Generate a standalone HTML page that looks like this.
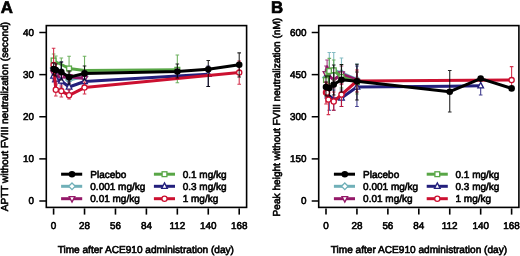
<!DOCTYPE html><html><head><meta charset="utf-8"><style>html,body{margin:0;padding:0;background:#fff;}svg{display:block;will-change:transform;}text{font-family:"Liberation Sans",sans-serif;text-rendering:geometricPrecision;fill:#000;stroke:#000;stroke-width:0.6px;}.tk{font-size:9.9px;font-weight:normal;}.ti{font-size:10.1px;font-weight:normal;}.lg{font-size:10.0px;font-weight:normal;}.pl{font-size:16.8px;font-weight:bold;stroke-width:0.7px;}</style></head><body>
<svg width="520" height="256" viewBox="0 0 520 256">
<rect width="520" height="256" fill="#fff"/>
<text x="0.8" y="12.5" class="pl">A</text>
<text x="271.0" y="12.5" class="pl">B</text>
<path d="M53.60 62.00V74.00M51.80 62.00H55.40M51.80 74.00H55.40" stroke="#70b0b8" stroke-width="1.1" stroke-opacity="0.85" fill="none"/>
<path d="M55.81 64.00V76.00M54.01 64.00H57.61M54.01 76.00H57.61" stroke="#70b0b8" stroke-width="1.1" stroke-opacity="0.85" fill="none"/>
<path d="M61.33 69.00V81.00M59.53 69.00H63.13M59.53 81.00H63.13" stroke="#70b0b8" stroke-width="1.1" stroke-opacity="0.85" fill="none"/>
<path d="M69.07 74.00V86.00M67.27 74.00H70.87M67.27 86.00H70.87" stroke="#70b0b8" stroke-width="1.1" stroke-opacity="0.85" fill="none"/>
<path d="M84.53 70.00V83.00M82.73 70.00H86.33M82.73 83.00H86.33" stroke="#70b0b8" stroke-width="1.1" stroke-opacity="0.85" fill="none"/>
<path d="M53.60 68.00L55.81 70.00L61.33 75.00L69.07 80.00L84.53 76.50" stroke="#70b0b8" stroke-width="3.0" fill="none" stroke-linejoin="round"/>
<path d="M53.60 64.70L56.90 68.00L53.60 71.30L50.30 68.00Z" fill="#fff" stroke="#70b0b8" stroke-width="1.3"/>
<path d="M55.81 66.70L59.11 70.00L55.81 73.30L52.51 70.00Z" fill="#fff" stroke="#70b0b8" stroke-width="1.3"/>
<path d="M61.33 71.70L64.63 75.00L61.33 78.30L58.03 75.00Z" fill="#fff" stroke="#70b0b8" stroke-width="1.3"/>
<path d="M69.07 76.70L72.37 80.00L69.07 83.30L65.77 80.00Z" fill="#fff" stroke="#70b0b8" stroke-width="1.3"/>
<path d="M84.53 73.20L87.83 76.50L84.53 79.80L81.23 76.50Z" fill="#fff" stroke="#70b0b8" stroke-width="1.3"/>
<path d="M53.60 67.00V79.00M51.80 67.00H55.40M51.80 79.00H55.40" stroke="#941868" stroke-width="1.1" stroke-opacity="0.85" fill="none"/>
<path d="M55.81 70.00V82.00M54.01 70.00H57.61M54.01 82.00H57.61" stroke="#941868" stroke-width="1.1" stroke-opacity="0.85" fill="none"/>
<path d="M61.33 72.00V84.00M59.53 72.00H63.13M59.53 84.00H63.13" stroke="#941868" stroke-width="1.1" stroke-opacity="0.85" fill="none"/>
<path d="M69.07 72.00V83.00M67.27 72.00H70.87M67.27 83.00H70.87" stroke="#941868" stroke-width="1.1" stroke-opacity="0.85" fill="none"/>
<path d="M84.53 74.00V85.00M82.73 74.00H86.33M82.73 85.00H86.33" stroke="#941868" stroke-width="1.1" stroke-opacity="0.85" fill="none"/>
<path d="M53.60 73.00L55.81 76.00L61.33 77.00L69.07 76.80L84.53 78.50" stroke="#941868" stroke-width="3.0" fill="none" stroke-linejoin="round"/>
<path d="M53.60 76.47L56.44 70.95L50.77 70.95Z" fill="#fff" stroke="#941868" stroke-width="1.3"/>
<path d="M55.81 79.47L58.64 73.95L52.97 73.95Z" fill="#fff" stroke="#941868" stroke-width="1.3"/>
<path d="M61.33 80.47L64.17 74.95L58.50 74.95Z" fill="#fff" stroke="#941868" stroke-width="1.3"/>
<path d="M69.07 80.27L71.90 74.75L66.23 74.75Z" fill="#fff" stroke="#941868" stroke-width="1.3"/>
<path d="M84.53 81.97L87.37 76.45L81.70 76.45Z" fill="#fff" stroke="#941868" stroke-width="1.3"/>
<path d="M53.60 54.00V67.00M51.80 54.00H55.40M51.80 67.00H55.40" stroke="#58a646" stroke-width="1.1" stroke-opacity="0.85" fill="none"/>
<path d="M55.81 56.00V68.00M54.01 56.00H57.61M54.01 68.00H57.61" stroke="#58a646" stroke-width="1.1" stroke-opacity="0.85" fill="none"/>
<path d="M61.33 58.00V71.00M59.53 58.00H63.13M59.53 71.00H63.13" stroke="#58a646" stroke-width="1.1" stroke-opacity="0.85" fill="none"/>
<path d="M69.07 56.30V81.00M67.27 56.30H70.87M67.27 81.00H70.87" stroke="#58a646" stroke-width="1.1" stroke-opacity="0.85" fill="none"/>
<path d="M84.53 56.30V84.00M82.73 56.30H86.33M82.73 84.00H86.33" stroke="#58a646" stroke-width="1.1" stroke-opacity="0.85" fill="none"/>
<path d="M177.34 55.00V82.80M175.54 55.00H179.14M175.54 82.80H179.14" stroke="#58a646" stroke-width="1.1" stroke-opacity="0.85" fill="none"/>
<path d="M53.60 60.50L55.81 62.00L61.33 64.50L69.07 68.50L84.53 70.40L177.34 69.80" stroke="#58a646" stroke-width="3.0" fill="none" stroke-linejoin="round"/>
<rect x="51.20" y="58.10" width="4.80" height="4.80" fill="#fff" stroke="#58a646" stroke-width="1.3"/>
<rect x="66.67" y="66.10" width="4.80" height="4.80" fill="#fff" stroke="#58a646" stroke-width="1.3"/>
<rect x="174.94" y="67.40" width="4.80" height="4.80" fill="#fff" stroke="#58a646" stroke-width="1.3"/>
<path d="M53.60 70.00V82.00M51.80 70.00H55.40M51.80 82.00H55.40" stroke="#231f7c" stroke-width="1.1" stroke-opacity="0.85" fill="none"/>
<path d="M55.81 73.00V85.00M54.01 73.00H57.61M54.01 85.00H57.61" stroke="#231f7c" stroke-width="1.1" stroke-opacity="0.85" fill="none"/>
<path d="M61.33 62.00V88.00M59.53 62.00H63.13M59.53 88.00H63.13" stroke="#231f7c" stroke-width="1.1" stroke-opacity="0.85" fill="none"/>
<path d="M69.07 81.00V93.00M67.27 81.00H70.87M67.27 93.00H70.87" stroke="#231f7c" stroke-width="1.1" stroke-opacity="0.85" fill="none"/>
<path d="M84.53 75.00V88.00M82.73 75.00H86.33M82.73 88.00H86.33" stroke="#231f7c" stroke-width="1.1" stroke-opacity="0.85" fill="none"/>
<path d="M208.27 66.00V86.50M206.47 66.00H210.07M206.47 86.50H210.07" stroke="#231f7c" stroke-width="1.1" stroke-opacity="0.85" fill="none"/>
<path d="M53.60 76.00L55.81 79.00L61.33 81.00L69.07 87.00L84.53 81.50L177.34 76.10L208.27 74.20" stroke="#231f7c" stroke-width="3.0" fill="none" stroke-linejoin="round"/>
<path d="M53.60 72.53L56.44 78.05L50.77 78.05Z" fill="#fff" stroke="#231f7c" stroke-width="1.3" stroke-linejoin="miter"/>
<path d="M55.81 75.53L58.64 81.05L52.97 81.05Z" fill="#fff" stroke="#231f7c" stroke-width="1.3" stroke-linejoin="miter"/>
<path d="M61.33 77.53L64.17 83.05L58.50 83.05Z" fill="#fff" stroke="#231f7c" stroke-width="1.3" stroke-linejoin="miter"/>
<path d="M69.07 83.53L71.90 89.05L66.23 89.05Z" fill="#fff" stroke="#231f7c" stroke-width="1.3" stroke-linejoin="miter"/>
<path d="M84.53 78.03L87.37 83.55L81.70 83.55Z" fill="#fff" stroke="#231f7c" stroke-width="1.3" stroke-linejoin="miter"/>
<path d="M208.27 70.73L211.11 76.25L205.44 76.25Z" fill="#fff" stroke="#231f7c" stroke-width="1.3" stroke-linejoin="miter"/>
<path d="M53.60 48.20V72.00M51.80 48.20H55.40M51.80 72.00H55.40" stroke="#cc1030" stroke-width="1.1" stroke-opacity="0.85" fill="none"/>
<path d="M55.81 84.00V96.00M54.01 84.00H57.61M54.01 96.00H57.61" stroke="#cc1030" stroke-width="1.1" stroke-opacity="0.85" fill="none"/>
<path d="M61.33 86.00V97.00M59.53 86.00H63.13M59.53 97.00H63.13" stroke="#cc1030" stroke-width="1.1" stroke-opacity="0.85" fill="none"/>
<path d="M69.07 90.00V99.00M67.27 90.00H70.87M67.27 99.00H70.87" stroke="#cc1030" stroke-width="1.1" stroke-opacity="0.85" fill="none"/>
<path d="M84.53 82.00V94.00M82.73 82.00H86.33M82.73 94.00H86.33" stroke="#cc1030" stroke-width="1.1" stroke-opacity="0.85" fill="none"/>
<path d="M239.21 61.00V84.30M237.41 61.00H241.01M237.41 84.30H241.01" stroke="#cc1030" stroke-width="1.1" stroke-opacity="0.85" fill="none"/>
<path d="M53.60 65.00L55.81 89.70L61.33 91.10L69.07 95.30L84.53 87.60L239.21 72.60" stroke="#cc1030" stroke-width="3.0" fill="none" stroke-linejoin="round"/>
<circle cx="53.60" cy="65.00" r="2.60" fill="#fff" stroke="#cc1030" stroke-width="1.3"/>
<circle cx="55.81" cy="89.70" r="2.60" fill="#fff" stroke="#cc1030" stroke-width="1.3"/>
<circle cx="61.33" cy="91.10" r="2.60" fill="#fff" stroke="#cc1030" stroke-width="1.3"/>
<circle cx="69.07" cy="95.30" r="2.60" fill="#fff" stroke="#cc1030" stroke-width="1.3"/>
<circle cx="84.53" cy="87.60" r="2.60" fill="#fff" stroke="#cc1030" stroke-width="1.3"/>
<circle cx="239.21" cy="72.60" r="2.60" fill="#fff" stroke="#cc1030" stroke-width="1.3"/>
<path d="M53.60 63.00V75.00M51.80 63.00H55.40M51.80 75.00H55.40" stroke="#000000" stroke-width="1.1" stroke-opacity="0.85" fill="none"/>
<path d="M55.81 64.00V76.00M54.01 64.00H57.61M54.01 76.00H57.61" stroke="#000000" stroke-width="1.1" stroke-opacity="0.85" fill="none"/>
<path d="M61.33 62.00V80.00M59.53 62.00H63.13M59.53 80.00H63.13" stroke="#000000" stroke-width="1.1" stroke-opacity="0.85" fill="none"/>
<path d="M69.07 71.00V84.00M67.27 71.00H70.87M67.27 84.00H70.87" stroke="#000000" stroke-width="1.1" stroke-opacity="0.85" fill="none"/>
<path d="M84.53 66.00V80.00M82.73 66.00H86.33M82.73 80.00H86.33" stroke="#000000" stroke-width="1.1" stroke-opacity="0.85" fill="none"/>
<path d="M177.34 64.00V78.00M175.54 64.00H179.14M175.54 78.00H179.14" stroke="#000000" stroke-width="1.1" stroke-opacity="0.85" fill="none"/>
<path d="M208.27 60.50V86.50M206.47 60.50H210.07M206.47 86.50H210.07" stroke="#000000" stroke-width="1.1" stroke-opacity="0.85" fill="none"/>
<path d="M239.21 52.90V77.00M237.41 52.90H241.01M237.41 77.00H241.01" stroke="#000000" stroke-width="1.1" stroke-opacity="0.85" fill="none"/>
<path d="M53.60 69.00L55.81 70.00L61.33 72.00L69.07 77.30L84.53 73.40L177.34 71.60L208.27 69.20L239.21 64.70" stroke="#000000" stroke-width="3.0" fill="none" stroke-linejoin="round"/>
<circle cx="53.60" cy="69.00" r="3.30" fill="#000000"/>
<circle cx="55.81" cy="70.00" r="3.30" fill="#000000"/>
<circle cx="61.33" cy="72.00" r="3.30" fill="#000000"/>
<circle cx="69.07" cy="77.30" r="3.30" fill="#000000"/>
<circle cx="84.53" cy="73.40" r="3.30" fill="#000000"/>
<circle cx="177.34" cy="71.60" r="3.30" fill="#000000"/>
<circle cx="208.27" cy="69.20" r="3.30" fill="#000000"/>
<circle cx="239.21" cy="64.70" r="3.30" fill="#000000"/>
<path d="M326.00 70.00V86.00M324.20 70.00H327.80M324.20 86.00H327.80" stroke="#70b0b8" stroke-width="1.1" stroke-opacity="0.85" fill="none"/>
<path d="M329.31 52.50V88.00M327.51 52.50H331.11M327.51 88.00H331.11" stroke="#70b0b8" stroke-width="1.1" stroke-opacity="0.85" fill="none"/>
<path d="M333.73 52.50V86.00M331.93 52.50H335.53M331.93 86.00H335.53" stroke="#70b0b8" stroke-width="1.1" stroke-opacity="0.85" fill="none"/>
<path d="M341.47 58.00V88.00M339.67 58.00H343.27M339.67 88.00H343.27" stroke="#70b0b8" stroke-width="1.1" stroke-opacity="0.85" fill="none"/>
<path d="M356.93 64.00V92.00M355.13 64.00H358.73M355.13 92.00H358.73" stroke="#70b0b8" stroke-width="1.1" stroke-opacity="0.85" fill="none"/>
<path d="M326.00 77.50L329.31 72.00L333.73 70.50L341.47 73.00L356.93 79.50" stroke="#70b0b8" stroke-width="3.0" fill="none" stroke-linejoin="round"/>
<path d="M326.00 74.20L329.30 77.50L326.00 80.80L322.70 77.50Z" fill="#fff" stroke="#70b0b8" stroke-width="1.3"/>
<path d="M329.31 68.70L332.61 72.00L329.31 75.30L326.01 72.00Z" fill="#fff" stroke="#70b0b8" stroke-width="1.3"/>
<path d="M333.73 67.20L337.03 70.50L333.73 73.80L330.43 70.50Z" fill="#fff" stroke="#70b0b8" stroke-width="1.3"/>
<path d="M341.47 69.70L344.77 73.00L341.47 76.30L338.17 73.00Z" fill="#fff" stroke="#70b0b8" stroke-width="1.3"/>
<path d="M356.93 76.20L360.23 79.50L356.93 82.80L353.63 79.50Z" fill="#fff" stroke="#70b0b8" stroke-width="1.3"/>
<path d="M326.00 66.00V82.00M324.20 66.00H327.80M324.20 82.00H327.80" stroke="#941868" stroke-width="1.1" stroke-opacity="0.85" fill="none"/>
<path d="M327.10 60.00V76.00M325.30 60.00H328.90M325.30 76.00H328.90" stroke="#941868" stroke-width="1.1" stroke-opacity="0.85" fill="none"/>
<path d="M329.31 68.00V84.00M327.51 68.00H331.11M327.51 84.00H331.11" stroke="#941868" stroke-width="1.1" stroke-opacity="0.85" fill="none"/>
<path d="M333.73 72.00V88.00M331.93 72.00H335.53M331.93 88.00H335.53" stroke="#941868" stroke-width="1.1" stroke-opacity="0.85" fill="none"/>
<path d="M341.47 66.00V84.00M339.67 66.00H343.27M339.67 84.00H343.27" stroke="#941868" stroke-width="1.1" stroke-opacity="0.85" fill="none"/>
<path d="M356.93 72.00V88.00M355.13 72.00H358.73M355.13 88.00H358.73" stroke="#941868" stroke-width="1.1" stroke-opacity="0.85" fill="none"/>
<path d="M326.00 73.60L327.10 67.00L329.31 76.00L333.73 80.00L341.47 74.00L356.93 80.00" stroke="#941868" stroke-width="3.0" fill="none" stroke-linejoin="round"/>
<path d="M326.00 77.06L328.83 71.55L323.17 71.55Z" fill="#fff" stroke="#941868" stroke-width="1.3"/>
<path d="M341.47 77.47L344.30 71.95L338.63 71.95Z" fill="#fff" stroke="#941868" stroke-width="1.3"/>
<path d="M326.00 72.00V88.00M324.20 72.00H327.80M324.20 88.00H327.80" stroke="#58a646" stroke-width="1.1" stroke-opacity="0.85" fill="none"/>
<path d="M329.31 58.40V84.00M327.51 58.40H331.11M327.51 84.00H331.11" stroke="#58a646" stroke-width="1.1" stroke-opacity="0.85" fill="none"/>
<path d="M333.73 60.00V80.00M331.93 60.00H335.53M331.93 80.00H335.53" stroke="#58a646" stroke-width="1.1" stroke-opacity="0.85" fill="none"/>
<path d="M341.47 64.80V88.00M339.67 64.80H343.27M339.67 88.00H343.27" stroke="#58a646" stroke-width="1.1" stroke-opacity="0.85" fill="none"/>
<path d="M356.93 72.00V94.00M355.13 72.00H358.73M355.13 94.00H358.73" stroke="#58a646" stroke-width="1.1" stroke-opacity="0.85" fill="none"/>
<path d="M326.00 80.00L329.31 71.00L333.73 70.30L341.47 77.00L356.93 82.00" stroke="#58a646" stroke-width="3.0" fill="none" stroke-linejoin="round"/>
<rect x="323.60" y="77.60" width="4.80" height="4.80" fill="#fff" stroke="#58a646" stroke-width="1.3"/>
<rect x="326.91" y="68.60" width="4.80" height="4.80" fill="#fff" stroke="#58a646" stroke-width="1.3"/>
<rect x="331.33" y="67.90" width="4.80" height="4.80" fill="#fff" stroke="#58a646" stroke-width="1.3"/>
<rect x="339.07" y="74.60" width="4.80" height="4.80" fill="#fff" stroke="#58a646" stroke-width="1.3"/>
<rect x="354.53" y="79.60" width="4.80" height="4.80" fill="#fff" stroke="#58a646" stroke-width="1.3"/>
<path d="M326.00 82.00V98.00M324.20 82.00H327.80M324.20 98.00H327.80" stroke="#231f7c" stroke-width="1.1" stroke-opacity="0.85" fill="none"/>
<path d="M329.31 88.00V110.20M327.51 88.00H331.11M327.51 110.20H331.11" stroke="#231f7c" stroke-width="1.1" stroke-opacity="0.85" fill="none"/>
<path d="M333.73 90.00V110.20M331.93 90.00H335.53M331.93 110.20H335.53" stroke="#231f7c" stroke-width="1.1" stroke-opacity="0.85" fill="none"/>
<path d="M341.47 90.00V106.50M339.67 90.00H343.27M339.67 106.50H343.27" stroke="#231f7c" stroke-width="1.1" stroke-opacity="0.85" fill="none"/>
<path d="M356.93 66.00V106.50M355.13 66.00H358.73M355.13 106.50H358.73" stroke="#231f7c" stroke-width="1.1" stroke-opacity="0.85" fill="none"/>
<path d="M480.67 85.80V95.00M478.87 85.80H482.47M478.87 95.00H482.47" stroke="#231f7c" stroke-width="1.1" stroke-opacity="0.85" fill="none"/>
<path d="M326.00 90.00L329.31 96.00L333.73 99.00L341.47 98.00L356.93 87.00L449.74 86.20L480.67 85.80" stroke="#231f7c" stroke-width="3.0" fill="none" stroke-linejoin="round"/>
<path d="M341.47 94.53L344.30 100.05L338.63 100.05Z" fill="#fff" stroke="#231f7c" stroke-width="1.3" stroke-linejoin="miter"/>
<path d="M356.93 83.53L359.77 89.05L354.10 89.05Z" fill="#fff" stroke="#231f7c" stroke-width="1.3" stroke-linejoin="miter"/>
<path d="M480.67 82.33L483.51 87.85L477.84 87.85Z" fill="#fff" stroke="#231f7c" stroke-width="1.3" stroke-linejoin="miter"/>
<path d="M326.00 82.00V104.00M324.20 82.00H327.80M324.20 104.00H327.80" stroke="#cc1030" stroke-width="1.1" stroke-opacity="0.85" fill="none"/>
<path d="M327.10 84.00V102.00M325.30 84.00H328.90M325.30 102.00H328.90" stroke="#cc1030" stroke-width="1.1" stroke-opacity="0.85" fill="none"/>
<path d="M328.43 88.00V114.60M326.63 88.00H330.23M326.63 114.60H330.23" stroke="#cc1030" stroke-width="1.1" stroke-opacity="0.85" fill="none"/>
<path d="M333.73 92.00V110.20M331.93 92.00H335.53M331.93 110.20H335.53" stroke="#cc1030" stroke-width="1.1" stroke-opacity="0.85" fill="none"/>
<path d="M341.47 84.00V106.50M339.67 84.00H343.27M339.67 106.50H343.27" stroke="#cc1030" stroke-width="1.1" stroke-opacity="0.85" fill="none"/>
<path d="M356.93 70.00V92.00M355.13 70.00H358.73M355.13 92.00H358.73" stroke="#cc1030" stroke-width="1.1" stroke-opacity="0.85" fill="none"/>
<path d="M511.61 66.60V87.30M509.81 66.60H513.41M509.81 87.30H513.41" stroke="#cc1030" stroke-width="1.1" stroke-opacity="0.85" fill="none"/>
<path d="M326.00 92.60L327.10 92.60L328.43 99.60L333.73 101.50L341.47 94.60L356.93 81.00L511.61 80.10" stroke="#cc1030" stroke-width="3.0" fill="none" stroke-linejoin="round"/>
<circle cx="326.00" cy="92.60" r="2.60" fill="#fff" stroke="#cc1030" stroke-width="1.3"/>
<circle cx="327.10" cy="92.60" r="2.60" fill="#fff" stroke="#cc1030" stroke-width="1.3"/>
<circle cx="328.43" cy="99.60" r="2.60" fill="#fff" stroke="#cc1030" stroke-width="1.3"/>
<circle cx="333.73" cy="101.50" r="2.60" fill="#fff" stroke="#cc1030" stroke-width="1.3"/>
<circle cx="341.47" cy="94.60" r="2.60" fill="#fff" stroke="#cc1030" stroke-width="1.3"/>
<circle cx="356.93" cy="81.00" r="2.60" fill="#fff" stroke="#cc1030" stroke-width="1.3"/>
<circle cx="511.61" cy="80.10" r="2.60" fill="#fff" stroke="#cc1030" stroke-width="1.3"/>
<path d="M326.00 76.00V96.00M324.20 76.00H327.80M324.20 96.00H327.80" stroke="#000000" stroke-width="1.1" stroke-opacity="0.85" fill="none"/>
<path d="M329.31 76.00V96.00M327.51 76.00H331.11M327.51 96.00H331.11" stroke="#000000" stroke-width="1.1" stroke-opacity="0.85" fill="none"/>
<path d="M333.73 65.00V95.00M331.93 65.00H335.53M331.93 95.00H335.53" stroke="#000000" stroke-width="1.1" stroke-opacity="0.85" fill="none"/>
<path d="M341.47 64.50V92.00M339.67 64.50H343.27M339.67 92.00H343.27" stroke="#000000" stroke-width="1.1" stroke-opacity="0.85" fill="none"/>
<path d="M356.93 64.20V100.00M355.13 64.20H358.73M355.13 100.00H358.73" stroke="#000000" stroke-width="1.1" stroke-opacity="0.85" fill="none"/>
<path d="M449.74 70.50V112.00M447.94 70.50H451.54M447.94 112.00H451.54" stroke="#000000" stroke-width="1.1" stroke-opacity="0.85" fill="none"/>
<path d="M326.00 87.00L329.31 88.00L333.73 84.50L341.47 79.70L356.93 81.20L449.74 91.70L480.67 78.60L511.61 88.40" stroke="#000000" stroke-width="3.0" fill="none" stroke-linejoin="round"/>
<circle cx="326.00" cy="87.00" r="3.30" fill="#000000"/>
<circle cx="329.31" cy="88.00" r="3.30" fill="#000000"/>
<circle cx="333.73" cy="84.50" r="3.30" fill="#000000"/>
<circle cx="341.47" cy="79.70" r="3.30" fill="#000000"/>
<circle cx="356.93" cy="81.20" r="3.30" fill="#000000"/>
<circle cx="449.74" cy="91.70" r="3.30" fill="#000000"/>
<circle cx="480.67" cy="78.60" r="3.30" fill="#000000"/>
<circle cx="511.61" cy="88.40" r="3.30" fill="#000000"/>
<rect x="46.3" y="25.6" width="200.3" height="181.8" fill="none" stroke="#000" stroke-width="1.6"/>
<rect x="318.7" y="25.6" width="200.2" height="181.8" fill="none" stroke="#000" stroke-width="1.6"/>
<path d="M39.30 201.00H46.30" stroke="#000" stroke-width="1.5"/>
<text x="33.90" y="204.30" text-anchor="end" class="tk">0</text>
<path d="M39.30 158.88H46.30" stroke="#000" stroke-width="1.5"/>
<text x="33.90" y="162.18" text-anchor="end" class="tk">10</text>
<path d="M39.30 116.75H46.30" stroke="#000" stroke-width="1.5"/>
<text x="33.90" y="120.05" text-anchor="end" class="tk">20</text>
<path d="M39.30 74.62H46.30" stroke="#000" stroke-width="1.5"/>
<text x="33.90" y="77.92" text-anchor="end" class="tk">30</text>
<path d="M39.30 32.50H46.30" stroke="#000" stroke-width="1.5"/>
<text x="33.90" y="35.80" text-anchor="end" class="tk">40</text>
<path d="M53.60 208.4V214.6" stroke="#000" stroke-width="1.6"/>
<text x="53.60" y="229.1" text-anchor="middle" class="tk">0</text>
<path d="M84.53 208.4V214.6" stroke="#000" stroke-width="1.6"/>
<text x="84.53" y="229.1" text-anchor="middle" class="tk">28</text>
<path d="M115.47 208.4V214.6" stroke="#000" stroke-width="1.6"/>
<text x="115.47" y="229.1" text-anchor="middle" class="tk">56</text>
<path d="M146.40 208.4V214.6" stroke="#000" stroke-width="1.6"/>
<text x="146.40" y="229.1" text-anchor="middle" class="tk">84</text>
<path d="M177.34 208.4V214.6" stroke="#000" stroke-width="1.6"/>
<text x="177.34" y="229.1" text-anchor="middle" class="tk">112</text>
<path d="M208.27 208.4V214.6" stroke="#000" stroke-width="1.6"/>
<text x="208.27" y="229.1" text-anchor="middle" class="tk">140</text>
<path d="M239.21 208.4V214.6" stroke="#000" stroke-width="1.6"/>
<text x="239.21" y="229.1" text-anchor="middle" class="tk">168</text>
<path d="M311.70 201.00H318.70" stroke="#000" stroke-width="1.5"/>
<text x="306.60" y="204.30" text-anchor="end" class="tk">0</text>
<path d="M311.70 158.88H318.70" stroke="#000" stroke-width="1.5"/>
<text x="306.60" y="162.18" text-anchor="end" class="tk">150</text>
<path d="M311.70 116.75H318.70" stroke="#000" stroke-width="1.5"/>
<text x="306.60" y="120.05" text-anchor="end" class="tk">300</text>
<path d="M311.70 74.62H318.70" stroke="#000" stroke-width="1.5"/>
<text x="306.60" y="77.92" text-anchor="end" class="tk">450</text>
<path d="M311.70 32.50H318.70" stroke="#000" stroke-width="1.5"/>
<text x="306.60" y="35.80" text-anchor="end" class="tk">600</text>
<path d="M326.00 208.4V214.6" stroke="#000" stroke-width="1.6"/>
<text x="326.00" y="229.1" text-anchor="middle" class="tk">0</text>
<path d="M356.93 208.4V214.6" stroke="#000" stroke-width="1.6"/>
<text x="356.93" y="229.1" text-anchor="middle" class="tk">28</text>
<path d="M387.87 208.4V214.6" stroke="#000" stroke-width="1.6"/>
<text x="387.87" y="229.1" text-anchor="middle" class="tk">56</text>
<path d="M418.80 208.4V214.6" stroke="#000" stroke-width="1.6"/>
<text x="418.80" y="229.1" text-anchor="middle" class="tk">84</text>
<path d="M449.74 208.4V214.6" stroke="#000" stroke-width="1.6"/>
<text x="449.74" y="229.1" text-anchor="middle" class="tk">112</text>
<path d="M480.67 208.4V214.6" stroke="#000" stroke-width="1.6"/>
<text x="480.67" y="229.1" text-anchor="middle" class="tk">140</text>
<path d="M511.61 208.4V214.6" stroke="#000" stroke-width="1.6"/>
<text x="511.61" y="229.1" text-anchor="middle" class="tk">168</text>
<text x="145.8" y="253.4" text-anchor="middle" class="ti">Time after ACE910 administration (day)</text>
<text x="418.9" y="253.4" text-anchor="middle" class="ti">Time after ACE910 administration (day)</text>
<text transform="translate(8.3,116.6) rotate(-90)" text-anchor="middle" class="ti">APTT without FVIII neutralization (second)</text>
<text transform="translate(280.3,117.1) rotate(-90)" text-anchor="middle" class="ti">Peak height without FVIII neutralization (nM)</text>
<path d="M61.10 174.20H82.20" stroke="#000000" stroke-width="3.0"/>
<circle cx="72.00" cy="174.20" r="3.30" fill="#000000"/>
<text x="90.30" y="177.80" class="lg">Placebo</text>
<path d="M61.10 186.30H82.20" stroke="#70b0b8" stroke-width="3.0"/>
<path d="M72.00 183.00L75.30 186.30L72.00 189.60L68.70 186.30Z" fill="#fff" stroke="#70b0b8" stroke-width="1.3"/>
<text x="90.30" y="189.90" class="lg">0.001 mg/kg</text>
<path d="M61.10 198.70H82.20" stroke="#941868" stroke-width="3.0"/>
<path d="M72.00 202.16L74.83 196.65L69.17 196.65Z" fill="#fff" stroke="#941868" stroke-width="1.3"/>
<text x="90.30" y="202.30" class="lg">0.01 mg/kg</text>
<path d="M153.90 174.20H175.00" stroke="#58a646" stroke-width="3.0"/>
<rect x="162.10" y="171.80" width="4.80" height="4.80" fill="#fff" stroke="#58a646" stroke-width="1.3"/>
<text x="182.70" y="177.80" class="lg">0.1 mg/kg</text>
<path d="M153.90 186.30H175.00" stroke="#231f7c" stroke-width="3.0"/>
<path d="M164.50 182.84L167.34 188.35L161.66 188.35Z" fill="#fff" stroke="#231f7c" stroke-width="1.3" stroke-linejoin="miter"/>
<text x="182.70" y="189.90" class="lg">0.3 mg/kg</text>
<path d="M153.90 198.70H175.00" stroke="#cc1030" stroke-width="3.0"/>
<circle cx="164.50" cy="198.70" r="2.60" fill="#fff" stroke="#cc1030" stroke-width="1.3"/>
<text x="182.70" y="202.30" class="lg">1 mg/kg</text>
<path d="M333.90 174.20H355.00" stroke="#000000" stroke-width="3.0"/>
<circle cx="344.80" cy="174.20" r="3.30" fill="#000000"/>
<text x="363.10" y="177.80" class="lg">Placebo</text>
<path d="M333.90 186.30H355.00" stroke="#70b0b8" stroke-width="3.0"/>
<path d="M344.80 183.00L348.10 186.30L344.80 189.60L341.50 186.30Z" fill="#fff" stroke="#70b0b8" stroke-width="1.3"/>
<text x="363.10" y="189.90" class="lg">0.001 mg/kg</text>
<path d="M333.90 198.70H355.00" stroke="#941868" stroke-width="3.0"/>
<path d="M344.80 202.16L347.63 196.65L341.97 196.65Z" fill="#fff" stroke="#941868" stroke-width="1.3"/>
<text x="363.10" y="202.30" class="lg">0.01 mg/kg</text>
<path d="M426.70 174.20H447.80" stroke="#58a646" stroke-width="3.0"/>
<rect x="434.90" y="171.80" width="4.80" height="4.80" fill="#fff" stroke="#58a646" stroke-width="1.3"/>
<text x="455.50" y="177.80" class="lg">0.1 mg/kg</text>
<path d="M426.70 186.30H447.80" stroke="#231f7c" stroke-width="3.0"/>
<path d="M437.30 182.84L440.13 188.35L434.47 188.35Z" fill="#fff" stroke="#231f7c" stroke-width="1.3" stroke-linejoin="miter"/>
<text x="455.50" y="189.90" class="lg">0.3 mg/kg</text>
<path d="M426.70 198.70H447.80" stroke="#cc1030" stroke-width="3.0"/>
<circle cx="437.30" cy="198.70" r="2.60" fill="#fff" stroke="#cc1030" stroke-width="1.3"/>
<text x="455.50" y="202.30" class="lg">1 mg/kg</text>
</svg></body></html>
